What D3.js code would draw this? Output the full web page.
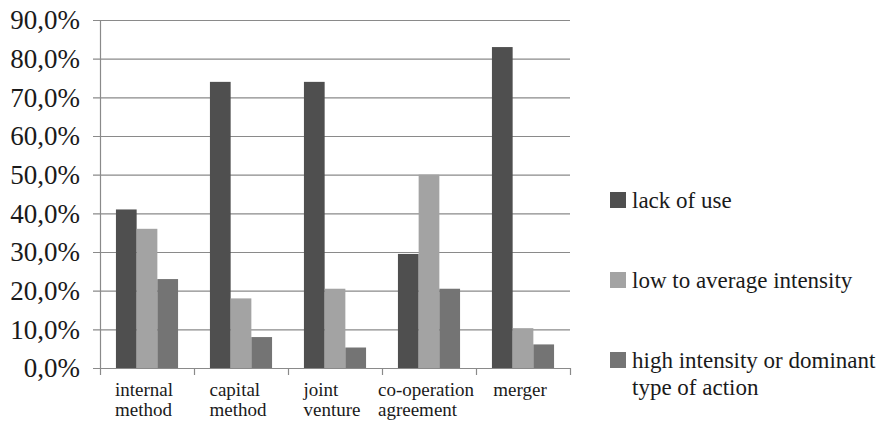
<!DOCTYPE html>
<html>
<head>
<meta charset="utf-8">
<script src="https://cdn.jsdelivr.net/npm/d3@7"></script>
<style>
  html body svg#chart text.lbl { font-family: "Liberation Serif", serif !important; }
</style>
</head>
<body style="margin:0">
<svg id="chart" width="892" height="422"></svg>
<script>
// Forms of action and how intensively each one is used
const categories = [
  ["internal", "method"],
  ["capital", "method"],
  ["joint", "venture"],
  ["co-operation", "agreement"],
  ["merger"]
];
const seriesNames = [
  ["lack of use"],
  ["low to average intensity"],
  ["high intensity or dominant", "type of action"]
];
const lackOfUse      = [41.0, 74.0, 74.0, 29.5, 83.0];
const lowToAverage   = [36.0, 18.0, 20.5, 50.0, 10.3];
const highOrDominant = [23.0,  8.0,  5.3, 20.5,  6.1];
const seriesValues = [lackOfUse, lowToAverage, highOrDominant];
const seriesColors = ["#4f4f4f", "#a3a3a3", "#747474"];
const yTicks = [0, 10, 20, 30, 40, 50, 60, 70, 80, 90];

const serifName = "Liberation Serif";
const INK = "#1a1a1a";
const GRID = "#8a8a8a";
const svg = d3.select("#chart");
const plot = { left: 100, right: 570, top: 20, bottom: 368 };

// Serif typeface applied to every label
function serif(sel) {
  return sel.classed("lbl", true)
    .attr("font-family", serifName)
    .style("font-family", `"${serifName}"`, "important");
}

const x0 = d3.scaleBand()
  .domain(d3.range(categories.length))
  .range([plot.left, plot.right])
  .paddingInner(0).paddingOuter(0);
const x1 = d3.scaleBand()
  .domain(d3.range(seriesValues.length))
  .range([0, x0.bandwidth()])
  .paddingInner(0).paddingOuter(0.77);
const y = d3.scaleLinear().domain([0, 90]).range([plot.bottom, plot.top]);

// Horizontal gridlines with outward ticks on the left
svg.append("g").selectAll("line").data(yTicks).join("line")
  .attr("x1", plot.left - 7).attr("x2", plot.right)
  .attr("y1", d => y(d) + 0.5).attr("y2", d => y(d) + 0.5)
  .attr("stroke", GRID).attr("stroke-width", 1.2);

// Y tick labels
const fmt = d => d.toFixed(1).replace(".", ",") + "%";
svg.append("g").selectAll("text").data(yTicks).join("text")
  .attr("x", 80)
  .attr("y", d => y(d))
  .attr("dy", "0.34em")
  .attr("text-anchor", "end")
  .attr("font-size", 27)
  .attr("fill", INK)
  .call(serif)
  .text(fmt);

// Bars
const groups = svg.append("g").selectAll("g").data(categories).join("g")
  .attr("transform", (d, i) => `translate(${x0(i)},0)`);
groups.selectAll("rect")
  .data((d, i) => seriesValues.map((vals, s) => ({ s, v: vals[i] })))
  .join("rect")
  .attr("x", d => x1(d.s))
  .attr("width", x1.bandwidth())
  .attr("y", d => y(d.v))
  .attr("height", d => y(0) - y(d.v))
  .attr("fill", d => seriesColors[d.s]);

// Axis lines
svg.append("line")
  .attr("x1", plot.left + 0.5).attr("x2", plot.left + 0.5)
  .attr("y1", plot.top).attr("y2", plot.bottom)
  .attr("stroke", GRID).attr("stroke-width", 1.2);
svg.append("line")
  .attr("x1", plot.left).attr("x2", plot.right)
  .attr("y1", plot.bottom + 0.5).attr("y2", plot.bottom + 0.5)
  .attr("stroke", GRID).attr("stroke-width", 1.2);
// Category boundary ticks
svg.append("g").selectAll("line").data(d3.range(categories.length + 1)).join("line")
  .attr("x1", i => (i < categories.length ? x0(i) : plot.right) + 0.5)
  .attr("x2", i => (i < categories.length ? x0(i) : plot.right) + 0.5)
  .attr("y1", plot.bottom).attr("y2", plot.bottom + 7)
  .attr("stroke", GRID).attr("stroke-width", 1.2);

// Category labels: lines left-aligned, block centred in its band
categories.forEach((lines, i) => {
  const texts = lines.map((line, k) => svg.append("text")
    .attr("y", 396 + k * 20)
    .attr("font-size", 19)
    .attr("fill", INK)
    .call(serif)
    .text(line));
  const w = d3.max(texts, t => t.node().getComputedTextLength());
  const left = x0(i) + x0.bandwidth() / 2 - w / 2 - 3;
  texts.forEach(t => t.attr("x", left));
});

// Legend
const legendTop = [192, 272, 352];
seriesNames.forEach((lines, s) => {
  svg.append("rect")
    .attr("x", 610).attr("y", legendTop[s])
    .attr("width", 16).attr("height", 16)
    .attr("fill", seriesColors[s]);
  lines.forEach((line, k) => {
    svg.append("text")
      .attr("x", 632)
      .attr("y", legendTop[s] + 16 + k * 27)
      .attr("font-size", 23)
      .attr("fill", INK)
      .call(serif)
      .text(line);
  });
});
</script>
</body>
</html>
